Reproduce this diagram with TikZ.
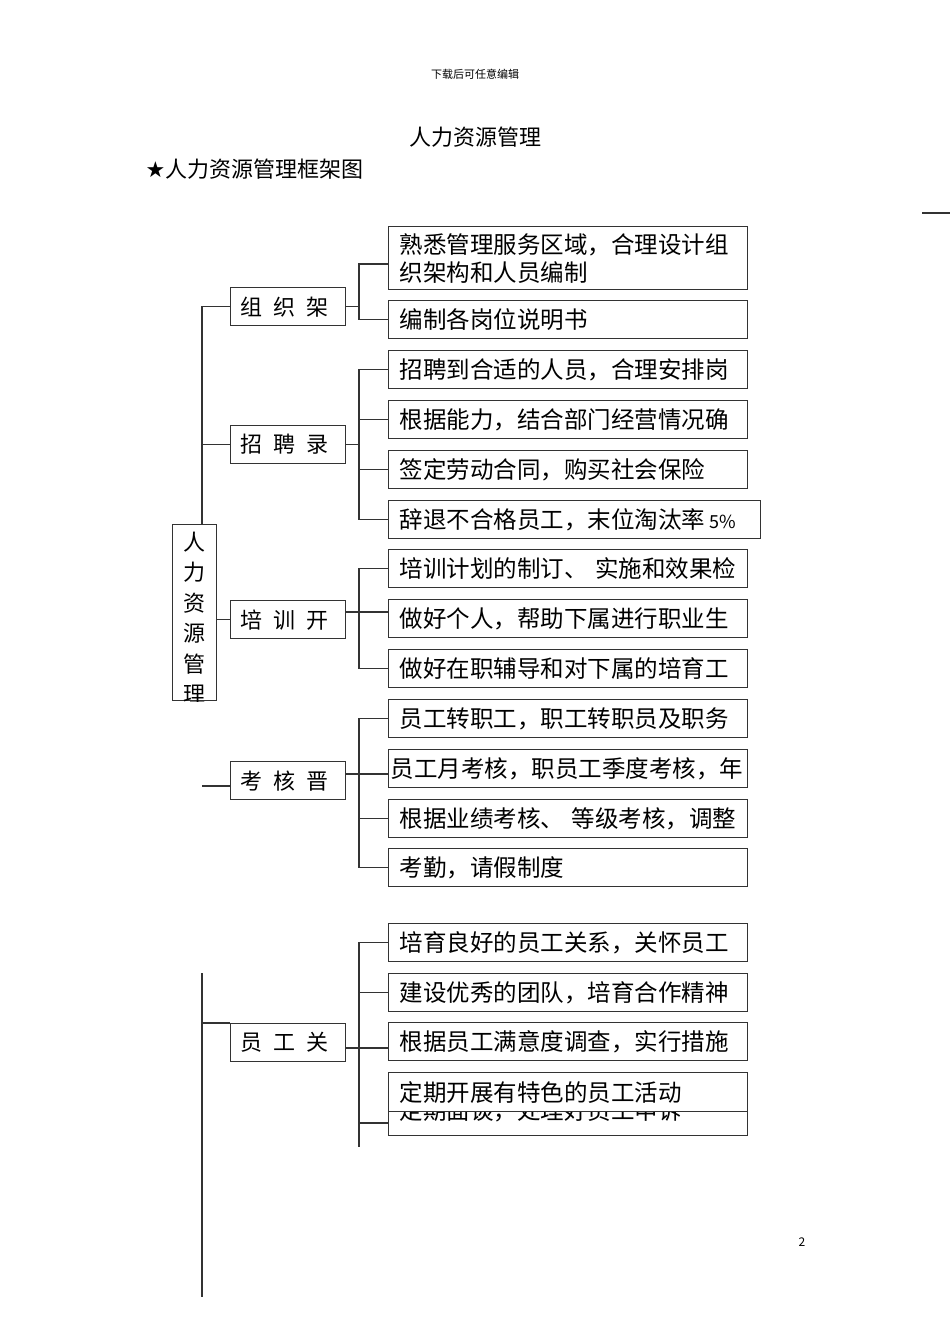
\documentclass[tikz,border=0pt]{standalone}
\usepackage{fontspec}
\setmainfont{Noto Sans CJK SC}
\newfontfamily\symf{DejaVu Sans}
\begin{document}
\begin{tikzpicture}[x=1pt,y=-1pt,line width=1.3pt,draw=black!80,
  leaf/.style={draw,fill=white,anchor=north west,minimum width=359pt,minimum height=38pt,inner xsep=11pt,inner ysep=0pt,text width=337pt,align=left,font=\fontsize{23.5}{28}\selectfont},
  grp/.style={draw,fill=white,anchor=north west,minimum width=115pt,minimum height=38pt,inner xsep=10pt,text width=95pt,align=left,font=\fontsize{22}{28}\selectfont},
  plain/.style={inner sep=0pt}]
\useasboundingbox (0,0) rectangle (950,1344);
\node[plain,font=\fontsize{11}{13}\selectfont] (hdr) at (475,74) {下载后可任意编辑};
\node[plain,font=\fontsize{22}{26}\selectfont] (title) at (475,137) {人力资源管理};
\node[plain,anchor=west,font=\fontsize{22}{26}\selectfont] (sub) at (145,169) {{\symf ★}人力资源管理框架图};
\node[plain,font=\fontsize{12}{14}\selectfont] (pg) at (802,1242) {2};
\coordinate (ra) at (922,213); \coordinate (rb) at (950,213);
\draw (ra) -- (rb);
% root
\node[draw,minimum width=44pt,minimum height=176pt,anchor=north west,inner sep=0pt] (root) at (172,524) {};
\begin{scope}
\clip (root.north west) rectangle (root.south east);
\node[plain,anchor=north,align=center,font=\fontsize{22}{30.5}\selectfont] (rt) at (194,531) {人\\力\\资\\源\\管\\理};
\end{scope}
% groups
\newcommand{\gs}{\hspace{11pt}}
\node[grp] (g1) at (230,287) {组\gs 织\gs 架};
\node[grp] (g2) at (230,425) {招\gs 聘\gs 录};
\node[grp] (g3) at (230,600) {培\gs 训\gs 开};
\node[grp] (g4) at (230,761) {考\gs 核\gs 晋};
\node[grp] (g5) at (230,1023) {员\gs 工\gs 关};
\coordinate (mx) at (202,0);
\draw (g1.west) -| (root.north -| mx);
\draw (g2.west) -- (g2.west -| mx);
\draw (root.east |- g3.west) -- (g3.west);
\coordinate (m4) at (202,786);
\draw (m4) -- (m4 -| g4.west);
\coordinate (m5a) at (202,973); \coordinate (m5b) at (202,1297);
\draw (m5a) -- (m5b);
\draw (g5.north west) -- (g5.north west -| mx);
% leaves
\node[leaf,minimum height=63pt] (l11) at (388,226) {熟悉管理服务区域，合理设计组\\织架构和人员编制};
\node[leaf] (l12) at (388,300) {编制各岗位说明书};
\node[leaf] (l21) at (388,350) {招聘到合适的人员，合理安排岗};
\node[leaf] (l22) at (388,400) {根据能力，结合部门经营情况确};
\node[leaf] (l23) at (388,450) {签定劳动合同，购买社会保险};
\node[leaf,text width=350pt] (l24) at (388,500) {辞退不合格员工，末位淘汰率\,{\fontsize{18}{20}\selectfont 5\%}};
\node[leaf] (l31) at (388,549) {培训计划的制订、 实施和效果检};
\node[leaf] (l32) at (388,599) {做好个人，帮助下属进行职业生};
\node[leaf] (l33) at (388,649) {做好在职辅导和对下属的培育工};
\node[leaf] (l41) at (388,699) {员工转职工，职工转职员及职务};
\node[leaf,inner xsep=2pt,text width=355pt] (l42) at (388,749) {员工月考核，职员工季度考核，年};
\node[leaf] (l43) at (388,799) {根据业绩考核、 等级考核，调整};
\node[leaf] (l44) at (388,848) {考勤，请假制度};
\node[leaf] (l51) at (388,923) {培育良好的员工关系，关怀员工};
\node[leaf] (l52) at (388,973) {建设优秀的团队，培育合作精神};
\node[leaf] (l53) at (388,1022) {根据员工满意度调查，实行措施};
\node[leaf,minimum height=49pt] (l55) at (388,1086) {\raisebox{-12pt}{定期面谈，处理好员工申诉}};
\node[leaf,minimum height=39pt] (l54) at (388,1072) {定期开展有特色的员工活动};
% brackets
\coordinate (bx) at (359,0);
\draw (g1.east) -- (g1.east -| bx);
\draw (l11.west |- 0,264) -| (bx |- 0,264) |- (l12.west);
\draw (g2.east) -- (g2.east -| bx);
\draw (l21.west) -| (bx |- l24.west) -- (l24.west);
\draw (l22.west) -- (l22.west -| bx);
\draw (l23.west) -- (l23.west -| bx);
\coordinate (c3) at (359,612);
\draw (g3.east |- c3) -- (c3) -- (c3 -| l32.west);
\draw (l31.west) -| (bx |- l33.west) -- (l33.west);
\coordinate (c4) at (359,774);
\draw (g4.east |- c4) -- (c4) -- (c4 -| l42.west);
\draw (l41.west) -| (bx |- l44.west) -- (l44.west);
\draw (l43.west) -- (l43.west -| bx);
\coordinate (c5) at (359,1048);
\coordinate (c5e) at (359,1147);
\draw (g5.east |- c5) -- (c5) -- (c5 -| l53.west);
\draw (l51.west) -| (c5e);
\draw (l52.west) -- (l52.west -| bx);
\coordinate (c55) at (388,1123);
\draw (c55) -- (c55 -| bx);
\end{tikzpicture}
\end{document}
